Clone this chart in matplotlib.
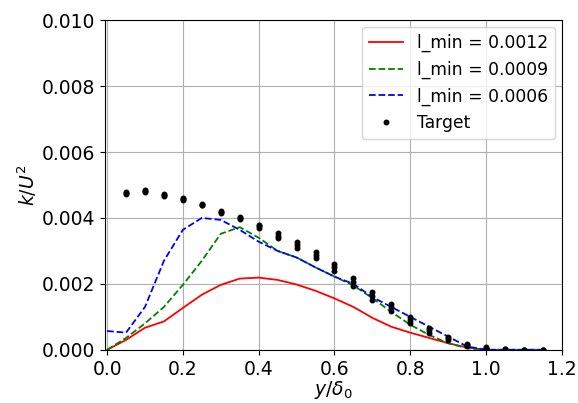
import matplotlib
matplotlib.use("Agg")
import matplotlib.pyplot as plt
import numpy as np

# 模拟结果
y_line = [0.0, 0.05, 0.1, 0.15, 0.2, 0.25, 0.3, 0.35, 0.4, 0.45, 0.5, 0.55, 0.6,
          0.65, 0.7, 0.75, 0.8, 0.85, 0.9, 0.95, 1.0, 1.05, 1.1, 1.15]
k_0012 = [0.0, 0.0003, 0.00067, 0.00086, 0.00127, 0.00167, 0.00197, 0.00216, 0.00219,
          0.00212, 0.00198, 0.00179, 0.00156, 0.0013, 0.00097, 0.0007, 0.00052, 0.00036,
          0.0002, 0.00007, 0.0, 0.0, 0.0, 0.0]
k_0009 = [0.0, 0.00036, 0.0008, 0.0013, 0.00197, 0.0027, 0.00352, 0.00372, 0.0034,
          0.0030, 0.0028, 0.0025, 0.00222, 0.00195, 0.00157, 0.00115, 0.00076, 0.00045,
          0.0002, 0.00005, 0.0, 0.0, 0.0, 0.0]
k_0006 = [0.00057, 0.00052, 0.0013, 0.0027, 0.00364, 0.0040, 0.00394, 0.00364, 0.00328,
          0.0030, 0.0028, 0.0025, 0.00222, 0.002, 0.0016, 0.0013, 0.001, 0.0007,
          0.0004, 0.0001, 0.0, 0.0, 0.0, 0.0]

# 目标数据 (每个位置有若干个点)
y_target = [0.05, 0.1, 0.15, 0.2, 0.25, 0.3, 0.35, 0.4, 0.45, 0.5, 0.55, 0.6,
            0.65, 0.7, 0.75, 0.8, 0.85, 0.9, 0.95, 1.0, 1.05, 1.1, 1.15]
k_target_lo = [0.00472, 0.0048, 0.00468, 0.00455, 0.00438, 0.00415, 0.00397, 0.0037,
               0.00338, 0.00308, 0.00278, 0.0024, 0.00195, 0.0015, 0.00118, 0.0008,
               0.00052, 0.0003, 0.00012, 0.00003, 0.0, 0.0, 0.0]
k_target_hi = [0.0048, 0.00484, 0.00472, 0.00459, 0.00442, 0.00421, 0.00403, 0.0038,
               0.00354, 0.00328, 0.00298, 0.0026, 0.00218, 0.00176, 0.0014, 0.001,
               0.00066, 0.0004, 0.00018, 0.00007, 0.00002, 0.0, 0.0]

fig = plt.figure(figsize=(5.78, 4.03), dpi=100)
ax = fig.add_axes((0.182, 0.132, 0.79, 0.818))

ax.plot(y_line, k_0012, color='r', ls='-', lw=1.3, label='l_min = 0.0012')
ax.plot(y_line, k_0009, color='g', ls='--', lw=1.3, label='l_min = 0.0009')
ax.plot(y_line, k_0006, color='b', ls='--', lw=1.3, label='l_min = 0.0006')
yt = np.array(y_target)
lo = np.array(k_target_lo)
hi = np.array(k_target_hi)
ax.plot(np.concatenate([yt, yt, yt]), np.concatenate([lo, (lo + hi) / 2, hi]),
        'k.', ms=6.5, ls='none', label='Target')

ax.set_xlim(-0.005, 1.2)
ax.set_ylim(0, 0.01)
ax.set_xticks([0.0, 0.2, 0.4, 0.6, 0.8, 1.0, 1.2])
ax.set_yticks([0.0, 0.002, 0.004, 0.006, 0.008, 0.01])
ax.set_yticklabels(['0.000', '0.002', '0.004', '0.006', '0.008', '0.010'])
ax.tick_params(labelsize=13.5)
ax.grid(True, color='#b0b0b0', lw=0.8)
ax.set_xlabel(r'$y/\delta_0$', fontsize=13.5, labelpad=0)
ax.set_ylabel(r'$k/U^2$', fontsize=13.5, labelpad=2)
ax.legend(loc='upper right', fontsize=12.3, borderaxespad=0.4)

fig.savefig('out.png', dpi=100)
